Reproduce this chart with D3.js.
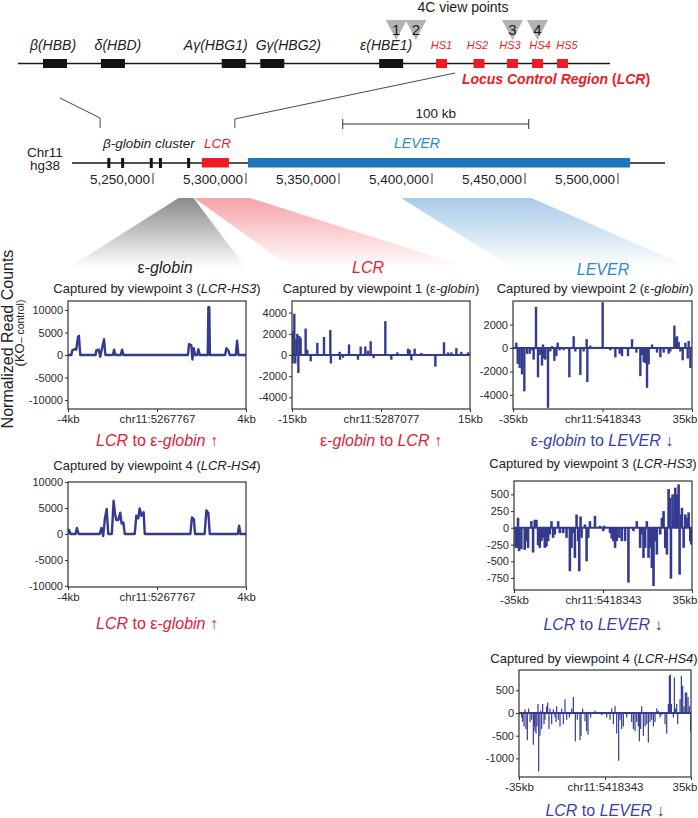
<!DOCTYPE html>
<html><head><meta charset="utf-8">
<script src="https://cdn.jsdelivr.net/npm/d3@7"></script>
<style>body{margin:0;background:#fff}svg{display:block}text{font-family:"Liberation Sans",Arial,sans-serif}</style>
</head><body><svg id="c" width="698" height="818"></svg>
<script>
// ---------- data ----------
const geneNames = ["β(HBB)","δ(HBD)","Aγ(HBG1)","Gγ(HBG2)","ε(HBE1)"];
const genePos = [5226268,5233660,5249063,5253985,5269145];
const hsNames = ["HS1","HS2","HS3","HS4","HS5"];
const hsPos = [5275566,5280350,5284623,5287812,5291000];
const viewpointLabels = ["1","2","3","4"];
const viewpointPos = [5269800,5272300,5284623,5287812];
const topSpan = [5221549,5297059];
const connectorTopPos = [5226900,5277300];
const connectorBottomPos = [5221549,5294000];
const chromSpan = [5206450,5525270];
const chromTicks = [5250000,5300000,5350000,5400000,5450000,5500000];
const lcrSpan = [5276300,5290800];
const leverSpan = [5301100,5506500];
const scaleBar = [5352000,5452000];
const windowCenters = [5267767,5287077,5418343];
const windowHalf = [4000,15000,35000];

// panel 1: ε-globin, viewpoint 3 (kb, KO-control)
const eglobinVp3 = [[-4,0],[-3.85,0],[-3.81,1000],[-3.7,1300],[-3.63,1200],[-3.55,4000],[-3.51,4300],[-3.45,0],
 [-2.76,0],[-2.73,1000],[-2.62,1200],[-2.55,-400],[-2.47,1500],[-2.38,3500],[-2.32,0],
 [-1.98,0],[-1.93,1200],[-1.87,0],[-1.63,0],[-1.57,1200],[-1.51,0],
 [1.39,0],[1.44,2400],[1.54,2200],[1.59,-1000],[1.65,1500],[1.72,0],[1.81,0],[1.86,1300],[1.92,0],
 [2.28,0],[2.31,10600],[2.35,10600],[2.38,0],[3.06,0],[3.12,1500],[3.21,1000],[3.27,0],
 [3.54,0],[3.6,3200],[3.66,0],[4,0]];
// panel 4: ε-globin, viewpoint 4
const eglobinVp4 = [[-4,0],[-3.96,800],[-3.88,0],[-3.66,0],[-3.6,1150],[-3.52,0],
 [-2.58,0],[-2.5,1150],[-2.42,-400],[-2.34,3000],[-2.26,4800],[-2.19,0],
 [-2.03,0],[-1.95,6400],[-1.89,4000],[-1.83,2700],[-1.74,2700],[-1.65,4100],[-1.59,2000],[-1.51,2200],[-1.45,0],
 [-1,0],[-0.93,3500],[-0.84,3000],[-0.78,4900],[-0.7,3500],[-0.6,4200],[-0.55,0],
 [1.5,0],[1.57,3200],[1.66,2800],[1.71,0],[2.14,0],[2.22,4550],[2.31,4000],[2.37,0],
 [3.63,0],[3.69,1600],[3.75,0],[4,0]];
// panel 2: LCR, viewpoint 1
const lcrVp1 = [[-14.89,-800],[-14.78,2250],[-14.61,3900],[-14.44,-800],[-14.27,1500],[-14.1,2000],[-13.93,-1700],
 [-13.76,1800],[-13.54,1600],[-12.7,2500],[-12.42,500],[-11.85,-600],[-10.73,1150],[-9.61,1700],[-8.54,2350],[-8.45,-800],
 [-6.97,300],[-6.9,-450],[-6.4,-250],[-5.39,1000],[-3.88,-450],[-3.43,800],[-2.64,800],[-2.19,400],[-1.74,1300],[-1.24,-300],
 [0.73,3200],[1.74,-450],[2.75,250],[4.55,600],[4.83,500],[5.11,-500],[5.67,600],[6.8,200],[9.16,-1100],[10.62,1200],
 [11.29,250],[11.85,250],[12.7,650],[13.54,300],[14.66,250]];
// panel 3: LEVER, viewpoint 2
const leverVp2 = [[-33.7,450],[-33.17,-1350],[-32.39,-1700],[-31.48,-2250],[-30.57,-3700],[-29.52,-500],[-28.48,-500],
 [-27.57,-200],[-26.92,-1000],[-26,3500],[-25.22,-2500],[-24.31,-600],[-23.66,-1500],[-23.27,300],[-23,-900],[-22.35,-1000],
 [-21.31,-5100],[-20.4,-300],[-19.75,150],[-18.83,-1100],[-18.05,-700],[-17.53,450],[-16.75,-200],[-15.18,-200],
 [-12.97,-2500],[-11.27,1000],[-10.62,-300],[-8.66,-2300],[-7.36,-300],[-6.19,750],[-5.93,-2900],[-4.79,200],[-3.45,100],
 [-1.75,100],[0.07,3900],[3.07,-200],[5.03,-800],[6.72,-500],[7.63,-700],[9.98,-700],[11.54,750],[13.24,-400],
 [14.8,-2400],[15.46,-600],[16.11,-1200],[16.76,-1300],[17.41,-3400],[18.06,-1400],[19.37,300],[21.32,-400],
 [22.63,-800],[23.93,-400],[25.89,-500],[26.54,-300],[28.1,1900],[28.5,900],[29.15,1000],[29.8,500],[30.45,-300],
 [31.36,-1050],[32.41,450],[33.32,-900],[33.71,600],[34.36,-1700]];
// panel 5: LEVER, viewpoint 3
const leverVp3 = [[-34.34,-300],[-33.68,-300],[-33.42,150],[-33.03,-350],[-32.11,-320],[-30.79,-330],[-30.13,-200],
 [-29.47,-300],[-28.16,100],[-27.5,-370],[-26.84,120],[-26.18,120],[-25.53,-260],[-24.87,-300],[-24.21,-200],
 [-23.55,-150],[-22.89,-300],[-22.24,-280],[-21.58,-200],[-20.92,-100],[-20.26,100],[-19.61,-150],[-18.95,-100],
 [-17.63,100],[-16.97,-80],[-15.66,-80],[-14.34,-150],[-13.03,-650],[-12.37,-300],[-11.71,-80],[-11.05,-450],
 [-10.39,200],[-9.74,-200],[-9.34,-650],[-8.82,170],[-8.42,-150],[-7.11,50],[-6.45,-500],[-5.79,-150],[-5.13,100],
 [-3.16,180],[-1.18,30],[0.13,-50],[0.53,30],[2.76,-80],[3.42,-160],[4.08,-200],[4.74,-300],[5.39,-200],[6.45,-150],
 [7.37,-200],[8.68,-200],[10,-820],[11.97,-50],[13.29,100],[14.61,-300],[15.26,-100],[15.92,-450],[16.58,-300],
 [17.24,100],[17.89,-450],[18.55,-300],[19.21,-600],[19.87,-870],[20.53,-200],[21.18,-400],[22.5,-100],[23.16,150],
 [23.82,250],[24.47,-300],[25.13,-400],[25.79,580],[26.45,450],[26.71,-760],[27.37,500],[27.76,150],[28.42,600],
 [29.08,500],[29.74,650],[30.13,-700],[30.66,200],[31.05,300],[31.71,-300],[32.37,200],[33.03,150],[33.68,230],
 [34.34,-200],[34.74,-250]];
// panel 6: LEVER, viewpoint 4
const leverVp4 = [[-34.59,30],[-33.91,-100],[-33.51,-200],[-32.96,-300],[-32.56,80],[-32.15,-350],[-31.61,-600],
 [-31.07,100],[-30.52,-200],[-29.84,-150],[-29.17,-700],[-28.76,-300],[-28.49,-400],[-28.08,-450],[-27.67,-300],
 [-27.27,200],[-26.99,-1290],[-26.45,-500],[-26.18,50],[-25.77,-350],[-25.37,200],[-24.82,-250],[-24.42,-150],
 [-23.74,150],[-23.33,230],[-22.79,-350],[-22.38,100],[-21.7,-250],[-21.02,80],[-20.35,-100],[-19.94,-200],
 [-19.67,150],[-18.99,-150],[-18.31,-300],[-17.63,100],[-16.95,-250],[-16.28,300],[-15.6,-150],[-14.51,-100],
 [-13.56,100],[-12.88,350],[-12.07,-620],[-11.26,-150],[-10.18,-600],[-9.76,-500],[-9.08,100],[-8.13,-180],
 [-7.46,-400],[-6.91,-480],[-6.37,30],[-5.83,-100],[-4.06,50],[-3.39,30],[-2.03,-20],[-1.35,-50],[0.69,-100],
 [2.04,-150],[2.72,100],[3.4,-250],[4.08,150],[4.76,-450],[5.57,-1050],[6.11,-150],[6.79,-350],[7.47,-300],
 [8.83,-100],[10.86,-200],[11.54,-350],[12.22,-400],[12.9,-200],[13.58,-300],[13.98,-620],[14.53,-350],[14.93,150],
 [15.61,-500],[16.29,-300],[16.97,-250],[17.65,-650],[18.32,-200],[19,-150],[19.68,-300],[20.36,-200],[21.04,100],
 [21.72,50],[22.39,-100],[23.07,-50],[24.43,-250],[25.11,-450],[25.79,200],[26.2,820],[26.6,850],[27.01,200],
 [27.83,-100],[28.23,780],[28.64,100],[29.18,200],[29.59,-250],[30.54,300],[31.08,820],[31.62,600],[32.16,150],
 [32.71,450],[33.25,450],[33.8,350],[34.34,150],[34.88,-400]];

const yTicksEglobin = [-10000,-5000,0,5000,10000];
const yTicksLcr = [-4000,-2000,0,2000,4000];
const yTicksLeverVp2 = [-4000,-2000,0,2000];
const yTicksLeverVp3 = [-750,-500,-250,0,250,500];
const yTicksLeverVp4 = [-1000,-500,0,500];
const xLabelsEglobin = ["-4kb","chr11:5267767","4kb"];
const xLabelsLcr = ["-15kb","chr11:5287077","15kb"];
const xLabelsLever = ["-35kb","chr11:5418343","35kb"];

// ---------- drawing ----------
const RED = "#ed1c24", NAVY = "#343b8f", BLUE = "#1f75bc", LBLUE = "#2a88d2", CRIMSON = "#e2203a";
const svg = d3.select("#c");
const defs = svg.append("defs");

function txt(x, y, parts, o) {
  const t = svg.append("text").attr("x", x).attr("y", y)
    .attr("text-anchor", o.anchor || "middle").attr("font-size", o.size)
    .attr("fill", o.fill || "#222").attr("font-weight", o.weight || "normal");
  if (o.rotate) t.attr("transform", `rotate(-90,${x},${y})`);
  parts.forEach(p => {
    const s = t.append("tspan").text(p[0]);
    if (p[1]) s.attr("font-style", "italic");
    if (p[2]) Object.entries(p[2]).forEach(([k, v]) => s.attr(k, v));
  });
  return t;
}

// top locus diagram
const tx = d3.scaleLinear().domain(topSpan).range([18, 610]);
const geneLabelDx = [-2, 5, -18, 16, -5];
const hsLabelDx = [0, -1.5, -2.5, 2.5, 4.5];
svg.append("line").attr("x1", tx(topSpan[0])).attr("x2", tx(topSpan[1])).attr("y1", 63.5).attr("y2", 63.5)
  .attr("stroke", "#1a1a1a").attr("stroke-width", 1.3);
svg.selectAll("rect.gene").data(genePos).join("rect").attr("class", "gene")
  .attr("x", d => tx(d) - 12).attr("y", 59).attr("width", 24).attr("height", 9).attr("fill", "#141414");
geneNames.forEach((n, i) => txt(tx(genePos[i]) + geneLabelDx[i], 50, [[n, true]], {size: 14}));
svg.selectAll("rect.hs").data(hsPos).join("rect").attr("class", "hs")
  .attr("x", d => tx(d) - 5.5).attr("y", 59).attr("width", 11).attr("height", 9).attr("fill", RED);
hsNames.forEach((n, i) => txt(tx(hsPos[i]) + hsLabelDx[i], 49, [[n, true]], {size: 11, fill: RED}));
viewpointPos.forEach((p, i) => {
  const c = tx(p);
  svg.append("path").attr("d", `M${c - 10.5},20L${c + 10.5},20L${c},40Z`).attr("fill", "#b3b3b3");
  txt(c, 35, [[viewpointLabels[i]]], {size: 15, fill: "#1a1a1a"});
});
txt(463, 11.5, [["4C view points"]], {size: 14, fill: "#1a1a1a"});
txt(556, 84, [["Locus Control Region ", true], ["("], ["LCR", true], [")"]], {size: 14, fill: RED, weight: "bold"});

// chromosome
const cx = d3.scaleLinear().domain([5250000, 5500000]).range([153, 618]);
svg.append("path").attr("d", `M${tx(connectorTopPos[0])},98L${cx(connectorBottomPos[0])},118L${cx(connectorBottomPos[0])},128`)
  .attr("fill", "none").attr("stroke", "#333").attr("stroke-width", 0.9);
svg.append("path").attr("d", `M${tx(connectorTopPos[1])},73L${cx(connectorBottomPos[1])},119L${cx(connectorBottomPos[1])},128`)
  .attr("fill", "none").attr("stroke", "#333").attr("stroke-width", 0.9);

svg.append("line").attr("x1", cx(chromSpan[0])).attr("x2", cx(chromSpan[1])).attr("y1", 163).attr("y2", 163)
  .attr("stroke", "#1a1a1a").attr("stroke-width", 1.3);
svg.selectAll("rect.cg").data(genePos).join("rect").attr("class", "cg")
  .attr("x", d => cx(d) - 1.5).attr("y", 158).attr("width", 3).attr("height", 10).attr("fill", "#141414");
svg.append("rect").attr("x", cx(lcrSpan[0])).attr("y", 158).attr("width", cx(lcrSpan[1]) - cx(lcrSpan[0])).attr("height", 9.5).attr("fill", RED);
svg.append("rect").attr("x", cx(leverSpan[0])).attr("y", 158).attr("width", cx(leverSpan[1]) - cx(leverSpan[0])).attr("height", 9.5).attr("fill", BLUE);
txt(45, 156.5, [["Chr11"]], {size: 13.5});
txt(45, 170, [["hg38"]], {size: 13.5});
txt(103, 148, [["β-globin cluster", true]], {size: 13.5, anchor: "start"});
txt((cx(lcrSpan[0]) + cx(lcrSpan[1])) / 2 + 2, 148, [["LCR", true]], {size: 13.5, fill: RED});
txt(417, 148, [["LEVER", true]], {size: 14, fill: LBLUE});
chromTicks.forEach(t => {
  txt(cx(t) - 3, 183.5, [[d3.format(",")(t)]], {size: 13.5, anchor: "end"});
  svg.append("line").attr("x1", cx(t)).attr("x2", cx(t)).attr("y1", 173).attr("y2", 184).attr("stroke", "#222").attr("stroke-width", 0.9);
});
svg.append("path").attr("d", `M${cx(scaleBar[0])},124H${cx(scaleBar[1])}M${cx(scaleBar[0])},119V129M${cx(scaleBar[1])},119V129`)
  .attr("stroke", "#333").attr("stroke-width", 1).attr("fill", "none");
txt((cx(scaleBar[0]) + cx(scaleBar[1])) / 2, 117.5, [["100 kb"]], {size: 13.5});

// panels config
const panels = [
  {data: eglobinVp3, type: "line", sw: 2.4, win: 4, x0: 68, x1: 246, y0: 301, y1: 409, yDom: [-12000, 12000], yTicks: yTicksEglobin, xl: xLabelsEglobin},
  {data: lcrVp1, type: "spike", sw: 2.4, win: 15, x0: 292, x1: 470, y0: 301, y1: 409, yDom: [-5100, 5100], yTicks: yTicksLcr, xl: xLabelsLcr},
  {data: leverVp2, type: "spike", sw: 2.4, win: 35, x0: 513, x1: 692, y0: 301, y1: 409, yDom: [-5200, 4000], yTicks: yTicksLeverVp2, xl: xLabelsLever},
  {data: eglobinVp4, type: "line", sw: 2.4, win: 4, x0: 68, x1: 246, y0: 482, y1: 587, yDom: [-10200, 10000], yTicks: yTicksEglobin, xl: xLabelsEglobin},
  {data: leverVp3, type: "spike", sw: 2.6, win: 35, x0: 514, x1: 692, y0: 481, y1: 590, yDom: [-930, 700], yTicks: yTicksLeverVp3, xl: xLabelsLever},
  {data: leverVp4, type: "spike", sw: 1.2, win: 35, x0: 519, x1: 691, y0: 670, y1: 777, yDom: [-1410, 947], yTicks: yTicksLeverVp4, xl: xLabelsLever}
];

// fans
const fanColors = ["#8a8a8a", "#f5a3a8", "#a9cae6"];
const fanPanels = [0, 1, 2];
fanColors.forEach((col, i) => {
  const gid = "fan" + i;
  const gr = defs.append("linearGradient").attr("id", gid).attr("x1", 0).attr("y1", 0).attr("x2", 0).attr("y2", 1);
  gr.append("stop").attr("offset", 0).attr("stop-color", col).attr("stop-opacity", 1);
  gr.append("stop").attr("offset", 1).attr("stop-color", col).attr("stop-opacity", 0);
  const p = panels[fanPanels[i]];
  const a = cx(windowCenters[i] - windowHalf[i]), b = cx(windowCenters[i] + windowHalf[i]);
  svg.append("path").attr("d", `M${a},198L${b},198L${p.x1},268L${p.x0},268Z`).attr("fill", `url(#${gid})`);
});

panels.forEach((p, k) => {
  const x = d3.scaleLinear().domain([-p.win, p.win]).range([p.x0, p.x1]);
  const y = d3.scaleLinear().domain(p.yDom).range([p.y1, p.y0]);
  const g = svg.append("g");
  const cid = "clip" + k;
  defs.append("clipPath").attr("id", cid).append("rect").attr("x", p.x0).attr("y", p.y0).attr("width", p.x1 - p.x0).attr("height", p.y1 - p.y0);
  const dg = g.append("g").attr("clip-path", `url(#${cid})`);
  if (p.type === "line") {
    dg.append("path").datum(p.data).attr("d", d3.line().x(d => x(d[0])).y(d => y(d[1])))
      .attr("fill", "none").attr("stroke", NAVY).attr("stroke-width", p.sw).attr("stroke-linejoin", "round");
  } else {
    dg.selectAll("line.s").data(p.data).join("line").attr("class", "s")
      .attr("x1", d => x(d[0])).attr("x2", d => x(d[0])).attr("y1", y(0)).attr("y2", d => y(d[1]))
      .attr("stroke", NAVY).attr("stroke-width", p.sw);
    dg.append("line").attr("x1", p.x0).attr("x2", p.x1).attr("y1", y(0)).attr("y2", y(0))
      .attr("stroke", NAVY).attr("stroke-width", 2);
  }
  g.append("rect").attr("x", p.x0).attr("y", p.y0).attr("width", p.x1 - p.x0).attr("height", p.y1 - p.y0)
    .attr("fill", "none").attr("stroke", "#333").attr("stroke-width", 1.2);
  const style = s => {
    s.select(".domain").remove();
    s.selectAll("text").attr("font-size", 11).attr("fill", "#2a2a2a").attr("font-family", '"Liberation Sans", Arial, sans-serif');
    s.selectAll("line").attr("stroke", "#333");
  };
  g.append("g").attr("transform", `translate(${p.x0},0)`)
    .call(d3.axisLeft(y).tickValues(p.yTicks).tickSize(3).tickPadding(2).tickFormat(d => String(d))).call(style);
  const xa = g.append("g").attr("transform", `translate(0,${p.y1})`)
    .call(d3.axisBottom(x).tickValues([-p.win, 0, p.win]).tickSize(3).tickPadding(3).tickFormat((d, i) => p.xl[i])).call(style);
  xa.selectAll("text").attr("font-size", 11.5);
  if (p.x1 > 680) xa.selectAll("text").filter((d, i) => i === 2).attr("text-anchor", "end").attr("dx", 697 - p.x1);
});

// panel titles and captions
txt(165, 273, [["ε"], ["-globin", true]], {size: 16});
txt(368, 273, [["LCR", true]], {size: 16, fill: RED});
txt(603, 275, [["LEVER", true]], {size: 16, fill: LBLUE});
txt(157, 293, [["Captured by viewpoint 3 ("], ["LCR-HS3", true], [")"]], {size: 13});
txt(381, 293, [["Captured by viewpoint 1 (ε"], ["-globin", true], [")"]], {size: 13});
txt(595, 293, [["Captured by viewpoint 2 (ε"], ["-globin", true], [")"]], {size: 13});
txt(157, 470, [["Captured by viewpoint 4 ("], ["LCR-HS4", true], [")"]], {size: 13});
txt(593, 468, [["Captured by viewpoint 3 ("], ["LCR-HS3", true], [")"]], {size: 13});
txt(594, 663, [["Captured by viewpoint 4 ("], ["LCR-HS4", true], [")"]], {size: 13});

// bottom statements
txt(157, 446, [["LCR", true], [" to ε-"], ["globin", true], [" ↑"]], {size: 16, fill: CRIMSON});
txt(381, 446, [["ε-"], ["globin", true], [" to "], ["LCR", true], [" ↑"]], {size: 16, fill: CRIMSON});
txt(602, 446, [["ε-"], ["globin", true], [" to "], ["LEVER", true], [" ↓"]], {size: 16, fill: "#3a3fa3"});
txt(157, 629, [["LCR", true], [" to ε-"], ["globin", true], [" ↑"]], {size: 16, fill: CRIMSON});
txt(603, 630, [["LCR", true], [" to "], ["LEVER", true], [" ↓"]], {size: 16, fill: "#3a3fa3"});
txt(605, 816, [["LCR", true], [" to "], ["LEVER", true], [" ↓"]], {size: 16, fill: "#3a3fa3"});

// y axis title
txt(13, 339, [["Normalized Read Counts"]], {size: 16, rotate: true});
txt(24, 333, [["(KO"], ["– control)", false, {"font-size": 10.5}]], {size: 13, rotate: true});
</script></body></html>
